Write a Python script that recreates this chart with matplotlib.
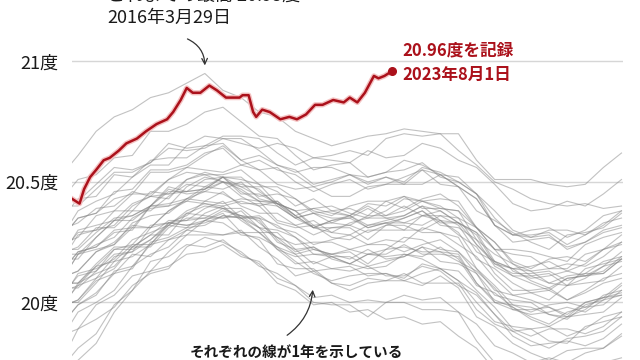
import matplotlib
matplotlib.use('Agg')
import matplotlib.pyplot as plt
import matplotlib.patheffects as pe

plt.rcParams['font.family'] = ['Noto Sans CJK JP', 'DejaVu Sans']

# ── data ─────────────────────────────────────────────────────────────────────
# day of year for the grey lines (one line per year, 1982-2022)
DAYS = [1, 5, 17, 29, 41, 53, 65, 77, 89, 101, 113, 125, 137, 149, 161, 173,
        185, 197, 209, 221, 233, 245, 257, 269, 281, 293, 305, 317, 329, 341,
        353, 365]

# values in hundredths of a degree above 20 °C
y1982 = [-22, -19, -13, -1, 5, 13, 15, 20, 21, 24, 19, 17, 10, 7, 2, 3, 0, 1, 0, 3, 1, 2, -4, -9, -18, -21, -25, -23, -25, -21, -19, -14]
y1983 = [0, 1, 9, 12, 20, 19, 26, 30, 29, 28, 29, 26, 16, 14, 14, 8, 7, 10, 9, 9, 7, 11, 6, -6, -10, -17, -21, -24, -20, -19, -19, -13]
y1984 = [-16, -11, -7, -2, 7, 12, 14, 23, 27, 25, 21, 15, 12, 7, 0, -1, -1, -6, 0, 0, -3, -3, -4, -16, -25, -26, -27, -30, -33, -27, -25, -23]
y1985 = [-26, -24, -17, -4, 5, 17, 19, 24, 23, 26, 20, 16, 8, 5, -1, 0, -4, -3, -7, -6, -9, -8, -14, -19, -28, -30, -34, -33, -34, -30, -29, -25]
y1986 = [-12, -11, -1, 3, 11, 13, 21, 28, 28, 28, 30, 23, 18, 11, 13, 8, 5, 8, 9, 12, 8, 8, 8, -3, -9, -12, -16, -19, -15, -14, -12, -6]
y1987 = [-4, -1, 4, 12, 14, 25, 27, 31, 37, 40, 34, 29, 29, 22, 16, 19, 19, 15, 17, 19, 23, 17, 16, 12, 0, -3, -3, -2, -6, -3, 3, 5]
y1988 = [6, 6, 13, 20, 21, 26, 33, 32, 33, 36, 35, 31, 22, 16, 17, 14, 13, 15, 11, 11, 15, 13, 7, 3, -5, -14, -18, -17, -16, -18, -15, -9]
y1989 = [-8, -4, 0, 5, 15, 20, 23, 30, 34, 33, 28, 27, 23, 17, 12, 9, 11, 12, 12, 9, 12, 14, 9, 0, -8, -10, -11, -16, -17, -10, -8, -6]
y1990 = [0, 1, 10, 14, 23, 23, 31, 35, 35, 35, 36, 34, 25, 22, 23, 18, 16, 20, 19, 20, 19, 23, 18, 7, 4, -2, -6, -9, -4, -2, -1, 5]
y1991 = [4, 8, 12, 15, 23, 28, 28, 37, 40, 39, 36, 31, 30, 27, 20, 20, 21, 16, 22, 23, 21, 21, 20, 8, 0, -1, -2, -5, -7, -1, 1, 3]
y1992 = [8, 8, 15, 22, 22, 26, 32, 31, 32, 36, 35, 29, 22, 19, 20, 19, 16, 14, 15, 20, 18, 14, 13, 5, -2, -11, -14, -11, -11, -13, -10, -4]
y1993 = [-4, -1, 3, 13, 15, 24, 26, 28, 34, 37, 29, 29, 23, 20, 13, 14, 15, 11, 12, 10, 16, 14, 9, 4, -5, -12, -11, -10, -14, -11, -6, -4]
y1994 = [0, 0, 8, 17, 19, 24, 33, 32, 34, 38, 36, 35, 26, 20, 22, 20, 18, 22, 18, 19, 23, 21, 17, 13, 6, -3, -5, -4, -2, -4, 1, 7]
y1995 = [8, 12, 14, 18, 26, 29, 32, 38, 41, 39, 35, 35, 32, 27, 22, 20, 22, 24, 24, 21, 24, 26, 21, 12, 3, 1, 0, -5, -6, 0, 2, 4]
y1996 = [6, 7, 15, 17, 24, 24, 32, 37, 36, 35, 38, 31, 27, 21, 23, 19, 16, 20, 20, 24, 20, 20, 19, 8, 1, -2, -7, -10, -6, -5, -4, 2]
y1997 = [4, 7, 10, 19, 21, 31, 33, 36, 42, 46, 40, 37, 37, 32, 28, 31, 32, 29, 32, 35, 38, 33, 33, 29, 17, 14, 15, 17, 13, 16, 22, 25]
y1998 = [26, 30, 32, 34, 41, 44, 43, 51, 53, 50, 47, 42, 41, 38, 31, 31, 31, 26, 32, 32, 29, 29, 27, 14, 5, 3, 1, -2, -5, 0, 2, 3]
y1999 = [8, 8, 16, 23, 23, 28, 34, 34, 35, 39, 39, 33, 27, 24, 25, 25, 22, 20, 22, 27, 26, 22, 21, 14, 7, -1, -4, -1, 0, -2, 2, 8]
y2000 = [8, 11, 13, 22, 24, 32, 33, 34, 39, 42, 35, 36, 31, 29, 24, 26, 28, 24, 26, 25, 31, 29, 24, 19, 10, 3, 4, 5, 1, 5, 10, 12]
y2001 = [12, 13, 21, 25, 32, 31, 38, 43, 42, 41, 43, 42, 34, 32, 34, 29, 28, 32, 33, 33, 32, 36, 32, 21, 17, 11, 8, 5, 10, 11, 13, 19]
y2002 = [16, 20, 22, 24, 33, 36, 37, 43, 46, 45, 41, 41, 40, 35, 31, 29, 33, 35, 35, 33, 36, 38, 33, 24, 16, 14, 13, 8, 7, 14, 16, 18]
y2003 = [22, 23, 31, 31, 38, 38, 44, 49, 48, 47, 50, 43, 41, 35, 37, 33, 32, 36, 36, 40, 36, 36, 35, 24, 17, 14, 9, 6, 10, 11, 12, 18]
y2004 = [18, 21, 23, 29, 30, 40, 40, 42, 47, 50, 44, 40, 42, 36, 31, 34, 36, 32, 34, 36, 40, 34, 33, 28, 16, 12, 12, 13, 9, 12, 17, 19]
y2005 = [22, 22, 29, 35, 36, 40, 47, 45, 46, 50, 49, 47, 40, 35, 37, 35, 35, 39, 35, 36, 40, 38, 33, 29, 22, 13, 10, 11, 13, 11, 15, 21]
y2006 = [18, 18, 27, 34, 34, 40, 46, 46, 47, 52, 52, 46, 41, 38, 39, 40, 37, 35, 38, 43, 42, 39, 38, 31, 25, 17, 14, 18, 19, 17, 22, 28]
y2007 = [26, 29, 30, 38, 38, 46, 45, 46, 51, 52, 45, 45, 41, 38, 32, 33, 36, 31, 33, 30, 36, 34, 28, 23, 12, 5, 5, 6, 1, 4, 8, 10]
y2008 = [12, 13, 21, 24, 31, 31, 38, 42, 41, 40, 42, 40, 33, 31, 32, 27, 26, 30, 30, 30, 30, 34, 29, 18, 14, 8, 4, 1, 7, 8, 9, 15]
y2009 = [16, 20, 24, 27, 35, 39, 40, 48, 52, 50, 48, 44, 45, 43, 37, 38, 39, 36, 42, 44, 42, 43, 42, 31, 22, 22, 21, 19, 17, 24, 27, 29]
y2010 = [32, 33, 39, 40, 46, 44, 51, 54, 53, 53, 55, 49, 46, 40, 43, 38, 36, 41, 40, 44, 39, 39, 38, 26, 20, 16, 11, 8, 11, 12, 12, 18]
y2011 = [18, 21, 23, 30, 31, 40, 41, 43, 48, 52, 46, 42, 42, 36, 31, 34, 35, 31, 33, 35, 38, 32, 31, 26, 15, 11, 11, 12, 7, 10, 15, 17]
y2012 = [20, 20, 27, 34, 36, 40, 48, 46, 47, 52, 51, 49, 41, 36, 39, 37, 36, 40, 36, 38, 42, 40, 35, 31, 25, 16, 13, 14, 16, 15, 19, 25]
y2013 = [24, 28, 30, 32, 40, 44, 45, 51, 54, 52, 48, 48, 48, 43, 38, 36, 40, 42, 42, 39, 43, 45, 40, 31, 22, 20, 19, 14, 14, 20, 22, 24]
y2014 = [26, 27, 36, 38, 45, 45, 51, 56, 55, 54, 57, 55, 49, 47, 48, 44, 44, 48, 49, 49, 49, 53, 48, 38, 34, 29, 25, 22, 28, 29, 31, 37]
y2015 = [34, 38, 42, 45, 52, 57, 57, 65, 69, 68, 66, 64, 66, 64, 60, 61, 63, 61, 68, 70, 69, 70, 70, 59, 51, 51, 51, 49, 48, 49, 56, 62]
y2016 = [58, 61, 71, 77, 80, 85, 87, 91, 95, 88, 85, 79, 77, 71, 68, 65, 67, 69, 70, 72, 71, 70, 63, 57, 50, 47, 43, 41, 40, 41, 39, 40]
y2017 = [42, 42, 49, 56, 55, 58, 64, 63, 64, 68, 68, 63, 57, 54, 56, 56, 53, 52, 54, 59, 57, 53, 52, 45, 38, 30, 27, 30, 30, 28, 32, 38]
y2018 = [32, 35, 37, 46, 47, 55, 55, 57, 62, 64, 57, 59, 55, 53, 48, 50, 53, 49, 52, 50, 56, 54, 50, 45, 35, 28, 30, 31, 27, 30, 36, 38]
y2019 = [40, 40, 47, 54, 54, 58, 66, 64, 65, 69, 69, 68, 62, 57, 60, 59, 58, 63, 60, 61, 66, 64, 59, 56, 49, 41, 38, 39, 42, 40, 45, 51]
y2020 = [48, 51, 53, 60, 61, 71, 71, 74, 79, 81, 75, 69, 68, 61, 55, 57, 58, 52, 54, 55, 58, 52, 50, 45, 32, 28, 27, 28, 22, 25, 29, 31]
y2021 = [32, 35, 37, 43, 45, 54, 54, 56, 61, 65, 59, 55, 56, 50, 46, 49, 51, 47, 49, 52, 55, 49, 48, 43, 32, 28, 28, 29, 24, 28, 33, 35]
y2022 = [40, 43, 44, 53, 52, 59, 60, 60, 65, 66, 59, 61, 57, 55, 49, 51, 53, 50, 52, 49, 55, 53, 48, 43, 32, 25, 26, 27, 23, 25, 30, 32]

GREY_YEARS = [y1982, y1983, y1984, y1985, y1986, y1987, y1988, y1989, y1990,
              y1991, y1992, y1993, y1994, y1995, y1996, y1997, y1998, y1999,
              y2000, y2001, y2002, y2003, y2004, y2005, y2006, y2007, y2008,
              y2009, y2010, y2011, y2012, y2013, y2014, y2015, y2016, y2017,
              y2018, y2019, y2020, y2021, y2022]

# 2023 (red) up to 1 August
RED_DAYS = [1, 6, 9, 13, 17, 22, 26, 32, 37, 44, 50, 57, 64, 68, 73, 77, 81,
            86, 92, 97, 103, 106, 112, 114, 118, 121, 123, 127, 132, 139, 145,
            150, 156, 162, 167, 174, 181, 185, 190, 195, 201, 204, 208, 213]
RED_VALUES = [20.43, 20.41, 20.47, 20.52, 20.55, 20.59, 20.60, 20.63, 20.66,
              20.68, 20.71, 20.74, 20.76, 20.79, 20.84, 20.89, 20.87, 20.87,
              20.90, 20.88, 20.85, 20.85, 20.85, 20.86, 20.86, 20.79, 20.77,
              20.80, 20.79, 20.76, 20.77, 20.76, 20.78, 20.82, 20.82, 20.84,
              20.83, 20.85, 20.83, 20.87, 20.94, 20.93, 20.94, 20.96]

TICKS = [20, 20.5, 21]
TICK_LABELS = ['20度', '20.5度', '21度']

RECORD_2016 = (89, 20.95)

RED = '#ab111b'

# ── canvas ───────────────────────────────────────────────────────────────────
fig = plt.figure(figsize=(6.4, 3.6), dpi=100)
ax = fig.add_axes([72 / 640, 0, 551 / 640, 1])
ax.set_xlim(1, 366)
ax.set_ylim(19.761, 21.255)

for spine in ax.spines.values():
    spine.set_visible(False)
ax.set_xticks([])
ax.set_yticks(TICKS)
ax.set_yticklabels(TICK_LABELS, fontsize=13, color='#1a1a1a')
ax.tick_params(axis='y', length=0, pad=10)

for t in TICKS:
    ax.axhline(t, color='#d6d6d6', lw=1.0, zorder=0)

# ── grey lines, one per year ────────────────────────────────────────────────
for vals in GREY_YEARS:
    ax.plot(DAYS, [20 + v / 100 for v in vals],
            color='#858585', lw=0.8, alpha=0.5, zorder=1)

# ── 2023 ─────────────────────────────────────────────────────────────────────
ax.plot(RED_DAYS, RED_VALUES, color=RED, lw=1.8, zorder=3,
        path_effects=[pe.Stroke(linewidth=3.8, foreground='#f4c3c3'),
                      pe.Normal()])
ax.plot(RED_DAYS[-1], RED_VALUES[-1], 'o', color=RED, ms=5.5, zorder=4)

ax.annotate('20.96度を記録', xy=(RED_DAYS[-1], RED_VALUES[-1]),
            xytext=(10, 21), textcoords='offset pixels',
            ha='left', va='center', fontsize=12, fontweight='bold', color=RED)
ax.annotate('2023年8月1日', xy=(RED_DAYS[-1], RED_VALUES[-1]),
            xytext=(10, -4), textcoords='offset pixels',
            ha='left', va='center', fontsize=12, fontweight='bold', color=RED)

# ── annotations ──────────────────────────────────────────────────────────────
# first line sits mostly above the top edge, as in the source image
ax.text(24.2, 21.274, 'これまでの最高 20.95度', ha='left', va='center',
        fontsize=13, color='#1a1a1a')
ax.text(24.2, 21.180, '2016年3月29日', ha='left', va='center',
        fontsize=13, color='#1a1a1a')
ax.annotate('', xy=(RECORD_2016[0], RECORD_2016[1] + 0.022),
            xytext=(75.8, 21.098),
            arrowprops=dict(arrowstyle='->', color='#333333', lw=0.9,
                            connectionstyle='arc3,rad=-0.35'))

ax.text(79, 19.795, 'それぞれの線が1年を示している', ha='left', va='center',
        fontsize=10.5, fontweight='bold', color='#1a1a1a')
ax.annotate('', xy=(160.6, 20.064), xytext=(142, 19.857),
            arrowprops=dict(arrowstyle='->', color='#333333', lw=0.9,
                            connectionstyle='arc3,rad=0.25'))

fig.savefig('out.png', dpi=100, facecolor='white')
plt.close(fig)
